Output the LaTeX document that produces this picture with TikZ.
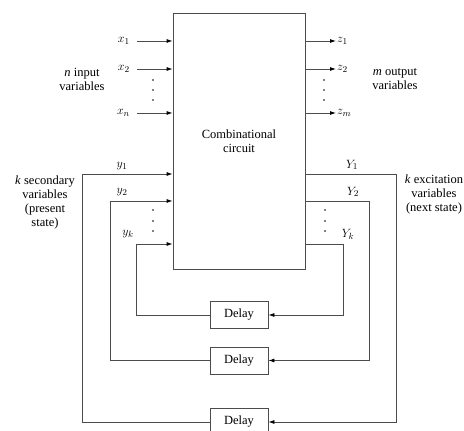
\documentclass[tikz,border=0pt]{standalone}
\usepackage{fontspec}
\setmainfont{Liberation Serif}
\usepackage{tikz}
\usetikzlibrary{positioning, arrows.meta}

\begin{document}
\begin{tikzpicture}[x=1pt, y=1pt, node distance=2cm,
    font=\fontsize{12.5}{14}\selectfont,
    wire/.style={draw=black!70, line width=0.8pt},
    sig/.style={wire, -{Latex[length=6pt,width=4pt,black]}},
    block/.style={draw=black!70, line width=0.8pt, minimum width=132pt, minimum height=256pt, inner sep=0pt, align=center},
    delaybox/.style={draw=black!70, line width=0.8pt, minimum width=58pt, minimum height=27pt, inner sep=0pt},
    lbl/.style={inner sep=1pt},
    txt/.style={align=center, inner sep=0pt}]
    \useasboundingbox (0,0) rectangle (464,431);

    % Define blocks
    \node[block] (box) at (239,290) {Combinational\\circuit};
    \node[delaybox] (d1) [below=174pt of box.center, anchor=center] {Delay};
    \node[delaybox] (d2) [below=45.5pt of d1.center, anchor=center] {Delay};
    \node[delaybox] (d3) [below=61.5pt of d2.center, anchor=center] {Delay};

    % Define inputs and outputs
    \foreach \i/\yy/\xin/\zout in {1/390/x_1/z_1, 2/362/x_2/z_2, n/318/x_n/z_m} {
        \coordinate (in\i) at (137,\yy);
        \coordinate (out\i) at (336,\yy);
        \node[lbl] (xl\i) [left=6pt of in\i] {$\xin$};
        \node[lbl] (zl\i) [right=0pt of out\i] {$\zout$};
        \draw[sig] (in\i) -- (in\i -| box.west);
        \draw[sig] (out\i -| box.east) -- (out\i);
    }

    % Define feedback loops
    \foreach \i/\yy/\xl/\xr/\d in {1/257/82/396/d3, 2/230/110/369/d2, k/187/136/343/d1} {
        \coordinate (yc\i) at (\xl,\yy);
        \coordinate (Yc\i) at (\xr,\yy);
        \draw[sig] (\d.west) -| (yc\i) -- (yc\i -| box.west);
        \draw[sig] (Yc\i -| box.east) -- (Yc\i) |- (\d.east);
    }
    \node[lbl] (yl1) at (122,265) {$y_1$};
    \node[lbl] (yl2) at (122,239) {$y_2$};
    \node[lbl] (ylk) at (128,197) {$y_k$};
    \node[lbl] (Yl1) at (352,266) {$Y_1$};
    \node[lbl] (Yl2) at (353,239) {$Y_2$};
    \node[lbl] (Ylk) at (348,197) {$Y_k$};

    % Dots
    \foreach \yy in {351,341,331} {
        \fill (153,\yy) circle (0.9pt);
        \fill (324,\yy) circle (0.9pt);
    }
    \foreach \yy in {221,210,200} {
        \fill (153,\yy) circle (0.9pt);
        \fill (325,\yy) circle (0.9pt);
    }

    % Descriptions
    \node[txt] (nin) at (82,351.5) {\textit{n} input\\variables};
    \node[txt] (mout) at (395,351.5) {\textit{m} output\\variables};
    \node[txt] (ksec) at (45,229) {\textit{k} secondary\\variables\\(present\\state)};
    \node[txt] (kexc) at (434,237) {\textit{k} excitation\\variables\\(next state)};
\end{tikzpicture}
\end{document}
